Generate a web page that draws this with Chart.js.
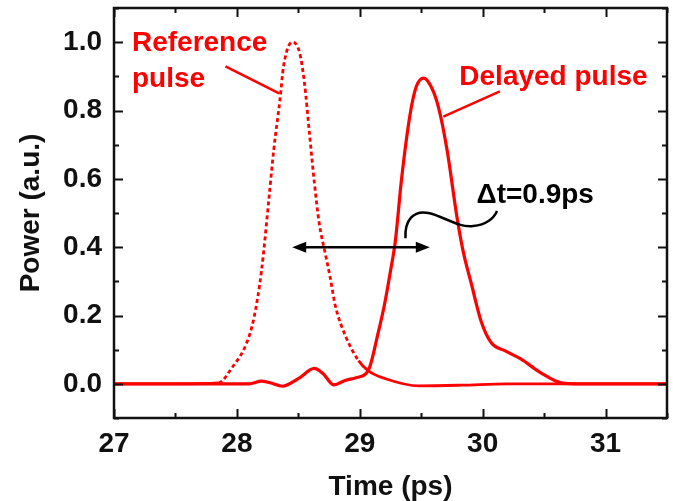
<!DOCTYPE html>
<html>
<head>
<meta charset="utf-8">
<script src="https://cdn.jsdelivr.net/npm/chart.js@4.4.1/dist/chart.umd.min.js"></script>
<style>
  html, body { margin: 0; padding: 0; background: #fff; }
  #plot { display: block; }
</style>
</head>
<body>
<canvas id="plot" width="673" height="501"></canvas>
<script>
// valores
const refTime  = [27.0, 27.5, 27.85, 27.96, 28.08, 28.14, 28.2, 28.26, 28.3, 28.35, 28.38, 28.45, 28.51, 28.55, 28.59, 28.63, 28.67, 28.72, 28.76, 28.8, 28.89, 28.99, 29.07, 29.21, 29.48, 29.83, 30.2, 31.5];
const refPower = [0, 0, 0.003, 0.047, 0.12, 0.195, 0.33, 0.54, 0.685, 0.83, 0.93, 1.0, 0.97, 0.88, 0.735, 0.59, 0.47, 0.38, 0.31, 0.23, 0.135, 0.068, 0.038, 0.015, -0.006, -0.004, 0, 0];

const delTime  = [27.0, 28.1, 28.2, 28.27, 28.37, 28.5, 28.63, 28.7, 28.79, 28.88, 28.97, 29.07, 29.15, 29.2, 29.25, 29.29, 29.34, 29.41, 29.46, 29.52, 29.58, 29.64, 29.71, 29.79, 29.84, 29.91, 29.99, 30.07, 30.18, 30.31, 30.47, 30.64, 30.8, 31.5];
const delPower = [0, 0, 0.008, 0.003, -0.007, 0.015, 0.045, 0.03, -0.003, 0.01, 0.018, 0.04, 0.15, 0.23, 0.33, 0.42, 0.6, 0.79, 0.87, 0.895, 0.87, 0.81, 0.685, 0.49, 0.39, 0.29, 0.18, 0.12, 0.097, 0.073, 0.033, 0.003, 0, 0];

const xTicks = [27, 28, 29, 30, 31];
const yTicks = [0, 0.2, 0.4, 0.6, 0.8, 1.0];

// tramo punteado del pulso de referencia
const refDashFrom = 27.85;
const refDashTo = 29.0;

const RED = "#ff0000";
const FONT = "'Liberation Sans', Arial, sans-serif";

/**
 * Ejes con marcas hacia dentro, marco y anotaciones.
 */
const framePlugin = {
  id: "frame",
  afterDraw(chart) {
    const { ctx, chartArea: a, scales: { x, y } } = chart;
    ctx.save();

    // marcas mayores y menores en los cuatro lados
    ctx.strokeStyle = "#111";
    ctx.lineWidth = 2;
    for (let v = 27; v <= 31.5 + 1e-9; v += 0.5) {
      const px = Math.round(x.getPixelForValue(v)) + 0.5;
      const len = Number.isInteger(v) ? 9 : 5;
      ctx.beginPath();
      ctx.moveTo(px, a.bottom); ctx.lineTo(px, a.bottom - len);
      ctx.moveTo(px, a.top); ctx.lineTo(px, a.top + len);
      ctx.stroke();
    }
    for (let i = -1; i <= 11; i++) {
      const v = i / 10;
      const py = Math.round(y.getPixelForValue(v)) + 0.5;
      const len = i % 2 === 0 ? 9 : 5;
      ctx.beginPath();
      ctx.moveTo(a.left, py); ctx.lineTo(a.left + len, py);
      ctx.moveTo(a.right, py); ctx.lineTo(a.right - len, py);
      ctx.stroke();
    }

    ctx.lineWidth = 2.5;
    ctx.strokeRect(a.left, a.top, a.right - a.left, a.bottom - a.top);

    const P = (tx, ty) => [x.getPixelForValue(tx), y.getPixelForValue(ty)];

    // textos en rojo
    ctx.fillStyle = RED;
    ctx.font = `bold 28px ${FONT}`;
    ctx.textBaseline = "alphabetic";
    ctx.textAlign = "left";
    ctx.fillText("Reference", ...P(27.146, 0.974));
    ctx.fillText("pulse", ...P(27.146, 0.868));
    ctx.fillText("Delayed pulse", ...P(29.81, 0.876));

    ctx.strokeStyle = RED;
    ctx.lineWidth = 2.5;
    ctx.beginPath();
    ctx.moveTo(...P(27.907, 0.929)); ctx.lineTo(...P(28.344, 0.85));
    ctx.moveTo(...P(30.14, 0.856)); ctx.lineTo(...P(29.68, 0.782));
    ctx.stroke();

    // flecha doble de retardo
    ctx.strokeStyle = "#000";
    ctx.fillStyle = "#000";
    ctx.lineWidth = 2.5;
    const [x0, yA] = P(28.45, 0.40);
    const [x1] = P(29.57, 0.40);
    ctx.beginPath();
    ctx.moveTo(x0 + 8, yA); ctx.lineTo(x1 - 8, yA);
    ctx.stroke();
    [[x0, 1], [x1, -1]].forEach(([hx, d]) => {
      ctx.beginPath();
      ctx.moveTo(hx, yA);
      ctx.lineTo(hx + d * 14, yA - 5.5);
      ctx.lineTo(hx + d * 14, yA + 5.5);
      ctx.closePath();
      ctx.fill();
    });

    // línea ondulada hacia la etiqueta
    const sq = [[29.372, 0.426], [29.364, 0.479], [29.437, 0.509], [29.559, 0.5],
                [29.68, 0.491], [29.802, 0.456], [29.923, 0.462],
                [30.028, 0.465], [30.093, 0.485], [30.117, 0.506]].map(p => P(p[0], p[1]));
    ctx.lineWidth = 2.5;
    ctx.beginPath();
    ctx.moveTo(...sq[0]);
    for (let i = 1; i + 2 < sq.length; i += 3) {
      ctx.bezierCurveTo(...sq[i], ...sq[i + 1], ...sq[i + 2]);
    }
    ctx.stroke();

    ctx.fillText("\u0394t=0.9ps", ...P(29.95, 0.529));
    ctx.restore();
  }
};

const axisFont = { family: FONT, size: 28, weight: "bold" };

new Chart(document.getElementById("plot"), {
  type: "line",
  data: {
    datasets: [
      {
        label: "Reference pulse",
        data: refTime.map((t, i) => ({ x: t, y: refPower[i] })),
        borderColor: RED,
        borderWidth: 2.8,
        pointRadius: 0,
        cubicInterpolationMode: "monotone",
        segment: {
          borderDash: c => (c.p0.parsed.x >= refDashFrom && c.p1.parsed.x <= refDashTo + 0.01) ? [4, 3] : undefined
        }
      },
      {
        label: "Delayed pulse",
        data: delTime.map((t, i) => ({ x: t, y: delPower[i] })),
        borderColor: RED,
        borderWidth: 3.2,
        pointRadius: 0,
        cubicInterpolationMode: "monotone"
      }
    ]
  },
  options: {
    responsive: false,
    animation: false,
    devicePixelRatio: 1,
    layout: { padding: { top: 8, right: 6, left: 0, bottom: 0 } },
    plugins: { legend: { display: false }, tooltip: { enabled: false } },
    scales: {
      x: {
        type: "linear",
        min: 27,
        max: 31.5,
        grid: { display: false, drawTicks: false },
        border: { display: false },
        afterBuildTicks: s => { s.ticks = xTicks.map(v => ({ value: v })); },
        afterFit: s => { s.height = 83; s.paddingLeft = 0; s.paddingRight = 0; },
        ticks: { color: "#111", font: axisFont, padding: 9, maxRotation: 0, autoSkip: false },
        title: { display: true, text: "Time (ps)", color: "#111", font: axisFont, padding: { top: 0, bottom: -3 } }
      },
      y: {
        type: "linear",
        min: -0.1,
        max: 1.1,
        grid: { display: false, drawTicks: false },
        border: { display: false },
        afterBuildTicks: s => { s.ticks = yTicks.map(v => ({ value: v })); },
        afterFit: s => { s.width = 114; s.paddingTop = 0; s.paddingBottom = 0; },
        ticks: { color: "#111", font: axisFont, padding: 12, callback: v => v.toFixed(1) },
        title: { display: true, text: "Power (a.u.)", color: "#111", font: axisFont, padding: { top: 14, bottom: 0 } }
      }
    }
  },
  plugins: [framePlugin]
});
</script>
</body>
</html>
